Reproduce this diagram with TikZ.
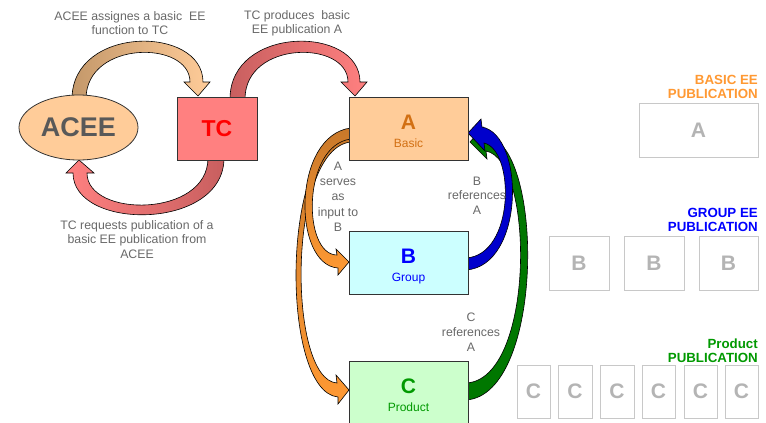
\documentclass[tikz,border=0pt]{standalone}
\usepackage{fontspec}
\setmainfont{Liberation Sans}
\usetikzlibrary{shapes.geometric}
\definecolor{lblgray}{RGB}{105,105,105}
\definecolor{peach}{HTML}{FFCC99}
\definecolor{tanbrown}{HTML}{C4986A}
\definecolor{tcfill}{HTML}{FF8080}
\definecolor{tcdark}{HTML}{C85F5F}
\definecolor{aceetext}{HTML}{595959}
\definecolor{atext}{RGB}{210,112,20}
\definecolor{orgdark}{HTML}{C8782A}
\definecolor{orglight}{HTML}{FF9933}
\definecolor{bfill}{HTML}{CCFFFF}
\definecolor{cfill}{HTML}{CCFFCC}
\definecolor{btext}{HTML}{0000FF}
\definecolor{ctext}{HTML}{009900}
\definecolor{arrblue}{HTML}{0000CC}
\definecolor{arrgreen}{HTML}{007700}
\definecolor{ghostline}{HTML}{C8C8C8}
\definecolor{ghosttext}{HTML}{B4B4B4}
\definecolor{boxline}{HTML}{333333}
\begin{document}
\begin{tikzpicture}[x=1pt,y=-1pt,
  lbl/.style={text=lblgray, font=\fontsize{12.3}{14.8}\selectfont, align=center, inner sep=0, anchor=north},
  pubbox/.style={draw=boxline, line width=0.8pt, minimum width=119pt, minimum height=63pt, inner sep=0},
  bigletter/.style={font=\bfseries\fontsize{21}{21}\selectfont, inner sep=0, anchor=base},
  subtext/.style={font=\fontsize{12}{12}\selectfont, inner sep=0, anchor=base},
  ghost/.style={draw=ghostline, line width=1pt, inner sep=0, text=ghosttext, font=\bfseries\fontsize{21}{21}\selectfont},
  pubtitle/.style={font=\bfseries\fontsize{13.3}{14.4}\selectfont, align=right, inner sep=0, anchor=south east},
  blockarrow/.style={draw=black, line width=0.6pt}
]
\clip (0,0) rectangle (766,423);
\fill[white] (0,0) rectangle (766,423);

% ---- block arrows (drawn first, nodes on top) ----
% ACEE -> TC
\path[blockarrow, left color=tanbrown, right color=peach]
  (72,99) .. controls (72,25) and (203,25) .. (203,82) -- (210,82) -- (198,96) -- (184,82) -- (190,82)
  .. controls (190,40) and (86,40) .. (86,99) -- cycle;
% TC -> A
\path[blockarrow, left color=tcdark, right color=tcfill]
  (230,99) .. controls (230,25) and (360,25) .. (360,82) -- (367,82) -- (355,96) -- (341,82) -- (348,82)
  .. controls (348,40) and (245,40) .. (245,99) -- cycle;
% TC -> ACEE
\path[blockarrow, left color=tcfill, right color=tcdark]
  (224,158) .. controls (224,231) and (73,231) .. (73,173) -- (66,173) -- (79,160) -- (94,173) -- (87,173)
  .. controls (87,218) and (208,218) .. (208,158) -- cycle;
% A -> C (big orange)
\path[blockarrow, top color=orgdark, bottom color=orglight]
  (351,130) .. controls (280,140) and (280,392) .. (338,397) -- (338,404) -- (349,390) -- (336,375) -- (337,383)
  .. controls (287,380) and (287,148) .. (351,142) -- cycle;
% A -> B (small orange)
\path[blockarrow, top color=orgdark, bottom color=orglight]
  (351,128) .. controls (292,135) and (292,265) .. (338,268) -- (338,275) -- (349,262) -- (336,249) -- (337,255)
  .. controls (302,255) and (302,145) .. (351,139) -- cycle;
% C -> A (green)
\path[blockarrow, fill=arrgreen]
  (466,400) .. controls (545,395) and (545,140) .. (484,135) -- (483,127) -- (470,142) -- (487,159) -- (486,151)
  .. controls (535,160) and (535,380) .. (466,383) -- cycle;
% B -> A (blue)
\path[blockarrow, fill=arrblue]
  (466,270) .. controls (525,266) and (525,135) .. (482,127) -- (481,119) -- (468,133) -- (485,151) -- (484,143)
  .. controls (515,150) and (515,255) .. (466,258) -- cycle;

% ---- main nodes ----
\node[ellipse, draw=boxline, line width=0.8pt, fill=peach, minimum width=119pt, minimum height=65pt, inner sep=0,
      font=\bfseries\fontsize{27}{27}\selectfont, text=aceetext] (acee) at (78.5,127.5) {ACEE};
\node[pubbox, fill=tcfill, minimum width=80pt, font=\bfseries\fontsize{23}{23}\selectfont, text=red] (tc) at (217,128.5) {TC};

\node[pubbox, fill=peach] (A) at (408.5,128.5) {};
\node[bigletter, text=atext] (Aletter) at (408.5,129.5) {A};
\node[subtext, text=atext] (Asub) at (408.5,147.5) {Basic};

\node[pubbox, fill=bfill] (B) at (408.5,262.5) {};
\node[bigletter, text=btext] (Bletter) at (408.5,263.5) {B};
\node[subtext, text=btext] (Bsub) at (408.5,281.5) {Group};

\node[pubbox, fill=cfill] (C) at (408.5,392.5) {};
\node[bigletter, text=ctext] (Cletter) at (408.5,393.5) {C};
\node[subtext, text=ctext] (Csub) at (408.5,411.5) {Product};

% ---- connector labels ----
\node[lbl] (l1) at (130,11) {ACEE assignes a basic\ \ EE\\function to TC};
\node[lbl] (l2) at (297,10) {TC produces\ \ basic\\EE publication A};
\node[lbl] (l3) at (137,220) {TC requests publication of a\\basic EE publication from\\ACEE};
\node[lbl, font=\fontsize{12.3}{15.4}\selectfont] (l4) at (338,161.5) {A\\serves\\as\\input to\\B};
\node[lbl] (l5) at (477,176.5) {B\\references\\A};
\node[lbl] (l6) at (471,313) {C\\references\\A};

% ---- right-hand overview ----
\node[pubtitle, text=orglight] (tA) at (758,99) {BASIC EE\\PUBLICATION};
\node[ghost, minimum width=119pt, minimum height=54pt] (gA) at (698.5,130) {A};

\node[pubtitle, text=btext] (tB) at (758,232) {GROUP EE\\PUBLICATION};
\node[ghost, minimum width=60pt, minimum height=54pt] (gB1) at (579,263) {B};
\node[ghost, minimum width=60pt, minimum height=54pt] (gB2) at (654,263) {B};
\node[ghost, minimum width=59pt, minimum height=54pt] (gB3) at (728.5,263) {B};

\node[pubtitle, text=ctext] (tC) at (758,363) {Product\\PUBLICATION};
\node[ghost, minimum width=33pt, minimum height=53pt] (gC1) at (533.5,391.5) {C};
\node[ghost, minimum width=34pt, minimum height=53pt] (gC2) at (575,391.5) {C};
\node[ghost, minimum width=34pt, minimum height=53pt] (gC3) at (617,391.5) {C};
\node[ghost, minimum width=33pt, minimum height=53pt] (gC4) at (658.5,391.5) {C};
\node[ghost, minimum width=33pt, minimum height=53pt] (gC5) at (700.5,391.5) {C};
\node[ghost, minimum width=33pt, minimum height=53pt] (gC6) at (741.5,391.5) {C};
\end{tikzpicture}
\end{document}
